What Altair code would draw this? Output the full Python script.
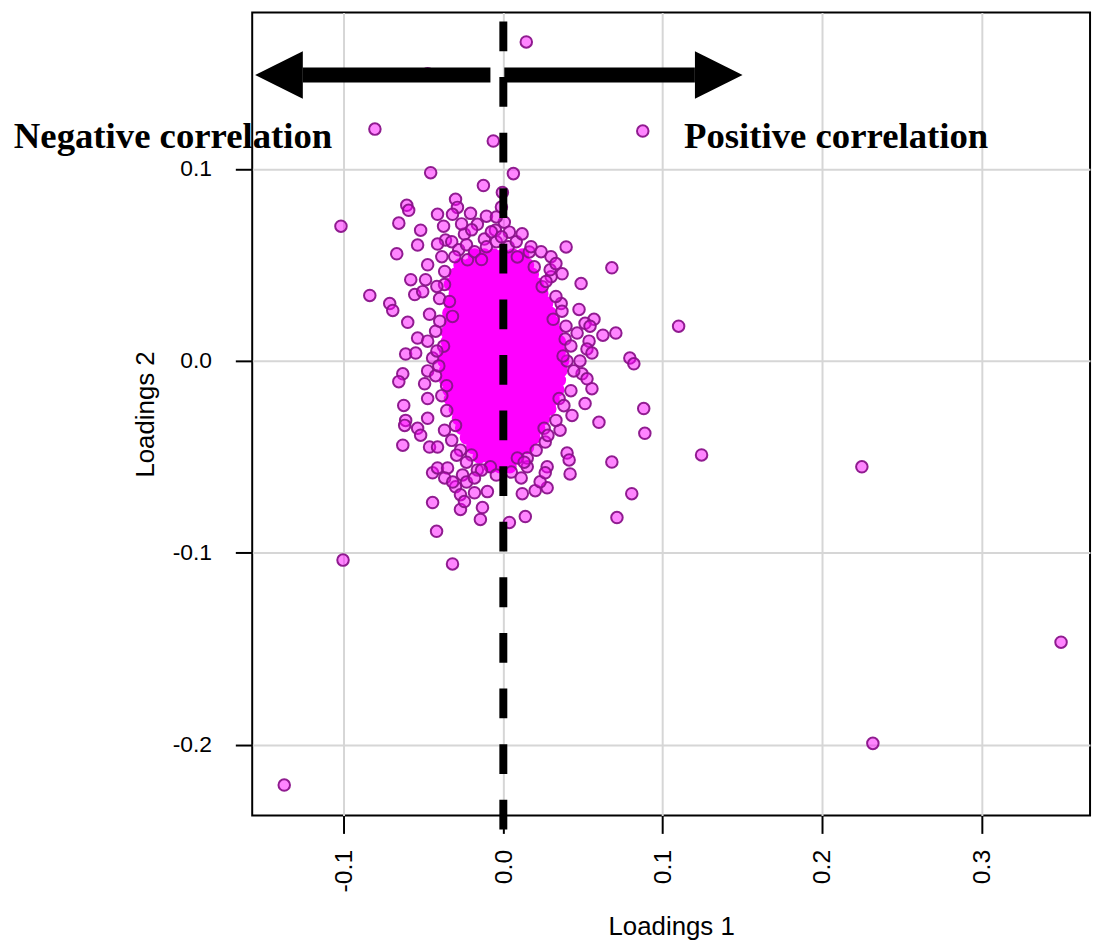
import altair as alt
import pandas as pd

# ---------------- data ----------------
X_DOMAIN = [-0.1576, 0.3682]
Y_DOMAIN = [-0.2369, 0.1816]
X_TICKS = [-0.1, 0.0, 0.1, 0.2, 0.3]
Y_TICKS = [-0.2, -0.1, 0.0, 0.1]

# scattered loadings (x = Loadings 1, y = Loadings 2)
outer_points = [
    (0.0144, 0.1662), (-0.0475, 0.1497), (-0.0806, 0.1208), (0.0875, 0.1198),
    (-0.0063, 0.1146), (-0.0456, 0.0981), (0.0063, 0.0976), (-0.0125, 0.0914),
    (-0.0006, 0.0878), (-0.1019, 0.0702), (0.1100, 0.0181), (-0.1006, -0.1038),
    (-0.0319, -0.1058), (-0.1375, -0.2210), (0.1244, -0.0490), (0.2250, -0.0552),
    (0.3500, -0.1466), (0.2319, -0.1993), (0.0806, -0.0692), (0.0713, -0.0816),
    (0.0419, -0.0589), (0.0275, -0.0552), (0.0275, -0.0661), (0.0200, -0.0676),
    (0.0119, -0.0692), (0.0138, -0.0811), (0.0038, -0.0842), (0.0681, -0.0527),
    (0.0231, -0.0630), (0.0263, -0.0583), (0.0150, -0.0552), (0.0881, -0.0248),
    (0.0888, -0.0377), (0.0681, 0.0485), (0.0369, 0.0454), (0.0300, 0.0439),
    (0.0488, 0.0403), (0.0363, 0.0299), (0.0475, 0.0268), (0.0569, 0.0217),
    (0.0513, 0.0196), (0.0544, 0.0181), (0.0706, 0.0145), (0.0625, 0.0134),
    (0.0463, 0.0145), (0.0538, 0.0103), (0.0388, 0.0114), (0.0794, 0.0015),
    (0.0819, -0.0015), (0.0525, 0.0062), (0.0556, 0.0041), (0.0400, 0.0000),
    (0.0481, 0.0000), (0.0556, -0.0145), (0.0513, -0.0222), (0.0600, -0.0320),
    (0.0431, -0.0284), (0.0356, -0.0361), (0.0263, -0.0423), (0.0400, -0.0480),
    (0.0413, -0.0516), (0.0150, -0.0506), (0.0494, -0.0067), (0.0525, -0.0093),
    (-0.0606, 0.0811), (-0.0594, 0.0785), (-0.0300, 0.0842), (-0.0288, 0.0800),
    (-0.0656, 0.0718), (-0.0413, 0.0764), (-0.0319, 0.0764), (-0.0206, 0.0769),
    (-0.0106, 0.0754), (-0.0163, 0.0712), (-0.0519, 0.0681), (-0.0375, 0.0702),
    (-0.0538, 0.0604), (-0.0669, 0.0558), (-0.0475, 0.0501), (-0.0050, 0.0681),
    (-0.0363, 0.0630), (-0.0244, 0.0661), (-0.0119, 0.0635), (-0.0413, 0.0609),
    (0.0006, 0.0723), (0.0038, 0.0671), (0.0163, 0.0568), (0.0394, 0.0594),
    (0.0194, 0.0490), (0.0294, 0.0475), (-0.0581, 0.0423), (-0.0488, 0.0423),
    (-0.0556, 0.0346), (-0.0506, 0.0361), (-0.0713, 0.0299), (-0.0694, 0.0263),
    (-0.0463, 0.0243), (-0.0600, 0.0201), (-0.0425, 0.0155), (-0.0538, 0.0119),
    (-0.0475, 0.0103), (-0.0613, 0.0036), (-0.0550, 0.0041), (-0.0444, 0.0015),
    (-0.0319, 0.0232), (-0.0400, 0.0325), (-0.0369, 0.0398), (-0.0631, -0.0067),
    (-0.0656, -0.0108), (-0.0494, -0.0119), (-0.0475, -0.0052), (-0.0425, -0.0077),
    (-0.0625, -0.0232), (-0.0475, -0.0196), (-0.0475, -0.0299), (-0.0613, -0.0310),
    (-0.0619, -0.0336), (-0.0538, -0.0351), (-0.0519, -0.0387), (-0.0631, -0.0439),
    (-0.0463, -0.0449), (-0.0413, -0.0449), (-0.0269, -0.0465), (-0.0369, -0.0361),
    (-0.0444, -0.0583), (-0.0413, -0.0558), (-0.0350, -0.0558), (-0.0256, -0.0594),
    (-0.0300, -0.0656), (-0.0181, -0.0687), (-0.0100, -0.0681), (-0.0269, -0.0697),
    (-0.0269, -0.0774), (-0.0131, -0.0764), (-0.0144, -0.0826), (-0.0444, -0.0738),
    (-0.0419, -0.0888), (-0.0163, -0.0568), (-0.0081, -0.0552), (-0.0244, -0.0733),
    (-0.0838, 0.0341), (-0.0338, 0.0310), (-0.0375, 0.0077), (-0.0356, -0.0129),
    (-0.0300, -0.0336), (-0.0200, -0.0490), (0.0244, 0.0387), (0.0313, 0.0217),
    (0.0375, 0.0026), (0.0350, -0.0196), (0.0256, -0.0351), (0.0088, -0.0506),
    (-0.0225, 0.0527), (0.0088, 0.0542),
    # fringe around the dense core
    (-0.0324, 0.0621), (-0.0280, 0.0579), (-0.0231, 0.0605), (-0.0181, 0.0569),
    (-0.0106, 0.0595), (-0.0044, 0.0621), (-0.0305, 0.0543), (-0.0386, 0.0543),
    (-0.0137, 0.0528), (-0.0075, 0.0673), (-0.0199, 0.0683), (-0.0262, 0.0714),
    (-0.0012, 0.0802), (-0.0044, 0.0750), (-0.0012, 0.0647), (0.0031, 0.0595),
    (0.0081, 0.0621), (0.0118, 0.0662), (0.0174, 0.0595), (0.0237, 0.0569),
    (0.0299, 0.0543), (0.0330, 0.0507),
    (-0.0368, 0.0466), (-0.0417, 0.0388), (-0.0399, 0.0207), (-0.0417, 0.0052),
    (-0.0405, -0.0026), (-0.0386, -0.0181), (-0.0355, -0.0259), (-0.0324, -0.0414),
    (-0.0293, -0.0491), (-0.0231, -0.0528), (-0.0137, -0.0569), (-0.0044, -0.0595),
    (0.0050, -0.0579), (0.0112, -0.0610),
    (-0.0368, -0.0610), (-0.0318, -0.0631), (-0.0231, -0.0631), (-0.0181, -0.0610),
    (0.0268, 0.0414), (0.0330, 0.0336), (0.0368, 0.0259), (0.0393, 0.0181),
    (0.0424, 0.0078), (0.0442, -0.0052), (0.0424, -0.0155), (0.0380, -0.0233),
    (0.0330, -0.0310), (0.0280, -0.0388), (0.0206, -0.0466), (0.0131, -0.0528),
]

# dense core of overlapping points, row by row (Loadings 2 value, Loadings 1 values)
core_row_y = [0.055, 0.050, 0.045, 0.040, 0.035, 0.030, 0.025, 0.020, 0.015, 0.010,
              0.005, 0.000, -0.005, -0.010, -0.015, -0.020, -0.025, -0.030, -0.035,
              -0.040, -0.045, -0.050, -0.055]
core_row_x = [
    [-0.018, -0.012, -0.006, 0.000, 0.006, 0.012],
    [-0.027, -0.021, -0.015, -0.009, -0.003, 0.003, 0.009, 0.015],
    [-0.030, -0.024, -0.018, -0.012, -0.006, 0.000, 0.006, 0.012, 0.018],
    [-0.033, -0.027, -0.021, -0.015, -0.009, -0.003, 0.003, 0.009, 0.015, 0.021],
    [-0.030, -0.024, -0.018, -0.012, -0.006, 0.000, 0.006, 0.012, 0.018, 0.024],
    [-0.033, -0.027, -0.021, -0.015, -0.009, -0.003, 0.003, 0.009, 0.015, 0.021, 0.027],
    [-0.034, -0.030, -0.024, -0.018, -0.012, -0.006, 0.000, 0.006, 0.012, 0.018, 0.024, 0.029],
    [-0.033, -0.027, -0.021, -0.015, -0.009, -0.003, 0.003, 0.009, 0.015, 0.021, 0.027, 0.031],
    [-0.035, -0.030, -0.024, -0.018, -0.012, -0.006, 0.000, 0.006, 0.012, 0.018, 0.024, 0.030, 0.033],
    [-0.035, -0.029, -0.023, -0.017, -0.011, -0.005, 0.001, 0.007, 0.013, 0.019, 0.025, 0.031, 0.035],
    [-0.036, -0.031, -0.025, -0.019, -0.013, -0.007, -0.001, 0.005, 0.011, 0.017, 0.023, 0.029, 0.035],
    [-0.037, -0.032, -0.026, -0.020, -0.014, -0.008, -0.002, 0.004, 0.010, 0.016, 0.022, 0.028, 0.034, 0.037],
    [-0.036, -0.030, -0.024, -0.018, -0.012, -0.006, 0.000, 0.006, 0.012, 0.018, 0.024, 0.030, 0.036],
    [-0.036, -0.031, -0.025, -0.019, -0.013, -0.007, -0.001, 0.005, 0.011, 0.017, 0.023, 0.029, 0.035],
    [-0.034, -0.028, -0.022, -0.016, -0.010, -0.004, 0.002, 0.008, 0.014, 0.020, 0.026, 0.032, 0.034],
    [-0.033, -0.027, -0.021, -0.015, -0.009, -0.003, 0.003, 0.009, 0.015, 0.021, 0.027, 0.031],
    [-0.030, -0.024, -0.018, -0.012, -0.006, 0.000, 0.006, 0.012, 0.018, 0.024, 0.029],
    [-0.028, -0.023, -0.017, -0.011, -0.005, 0.001, 0.007, 0.013, 0.019, 0.025],
    [-0.026, -0.020, -0.014, -0.008, -0.002, 0.004, 0.010, 0.016, 0.022],
    [-0.023, -0.017, -0.011, -0.005, 0.001, 0.007, 0.013, 0.019],
    [-0.019, -0.013, -0.007, -0.001, 0.005, 0.011, 0.015],
    [-0.015, -0.009, -0.003, 0.003, 0.009],
    [-0.008, -0.002, 0.004],
]

# annotation: dashed zero line, arrows and labels
zero_line = {"x": 0.0, "y_top": 0.1769, "y_bottom": -0.2442}
arrow_shafts = {"x_start": [-0.0081, 0.0006], "x_end": [-0.1259, 0.1202], "y": [0.149, 0.149]}
arrow_heads = {"x": [-0.1408, 0.1352], "y": [0.149, 0.149], "dir": ["left", "right"]}
annot_text = ["Negative correlation", "Positive correlation"]
annot_x = [-0.3072, 0.1134]
annot_y = [0.1107, 0.1107]

# ---------------- tables ----------------
outer_df = pd.DataFrame(outer_points, columns=["x", "y"])
core_df = pd.DataFrame(
    [(xv, yv) for yv, row in zip(core_row_y, core_row_x) for xv in row], columns=["x", "y"]
)
zero_df = pd.DataFrame([zero_line])
shaft_df = pd.DataFrame(arrow_shafts)
head_df = pd.DataFrame(arrow_heads)
text_df = pd.DataFrame({"label": annot_text, "x": annot_x, "y": annot_y})

FONT = "Liberation Sans"
neg_label = "datum.value < 0 ? '-' + format(-datum.value, '.1f') : format(datum.value, '.1f')"

x_scale = alt.Scale(domain=X_DOMAIN, nice=False, zero=False)
y_scale = alt.Scale(domain=Y_DOMAIN, nice=False, zero=False)

x_axis = alt.Axis(
    values=X_TICKS, labelExpr=neg_label, labelAngle=270, labelFont=FONT, labelFontSize=25,
    labelColor="black", labelPadding=16, labelOverlap=False, labelFlush=False,
    tickSize=18, tickColor="black", tickWidth=2, domain=False,
    grid=True, gridColor="#d6d6d6", gridWidth=2,
    title="Loadings 1", titleFont=FONT, titleFontSize=26, titleFontWeight="normal",
    titleColor="black", titlePadding=22,
)
y_axis = alt.Axis(
    values=Y_TICKS, labelExpr=neg_label, labelFont=FONT, labelFontSize=23,
    labelColor="black", labelPadding=24, labelOverlap=False,
    tickSize=17, tickColor="black", tickWidth=2, domain=False,
    grid=True, gridColor="#d6d6d6", gridWidth=2,
    title="Loadings 2", titleFont=FONT, titleFontSize=26, titleFontWeight="normal",
    titleColor="black", titlePadding=14,
)

core = alt.Chart(core_df).mark_circle(size=200, color="#ff00ff", opacity=1).encode(
    x=alt.X("x:Q", scale=x_scale, axis=x_axis),
    y=alt.Y("y:Q", scale=y_scale, axis=y_axis),
)

outer = alt.Chart(outer_df).mark_point(
    shape="circle", size=135, filled=True, fill="#ff00ff", fillOpacity=0.48,
    stroke="#8a128a", strokeWidth=2, strokeOpacity=0.95,
).encode(
    x=alt.X("x:Q", scale=x_scale, axis=x_axis),
    y=alt.Y("y:Q", scale=y_scale, axis=y_axis),
)

zero = alt.Chart(zero_df).mark_rule(
    color="black", strokeWidth=8, strokeDash=[30, 26], strokeCap="butt"
).encode(
    x=alt.X("x:Q", scale=x_scale),
    y=alt.Y("y_top:Q", scale=y_scale),
    y2="y_bottom:Q",
)

shafts = alt.Chart(shaft_df).mark_rule(color="black", strokeWidth=15, strokeCap="butt").encode(
    x=alt.X("x_start:Q", scale=x_scale),
    x2="x_end:Q",
    y=alt.Y("y:Q", scale=y_scale),
)

left_head = alt.Chart(head_df).transform_filter("datum.dir == 'left'").mark_point(
    shape="M1,-1L-1,0L1,1Z", size=2304, filled=True, fill="black", opacity=1, strokeWidth=0
).encode(x=alt.X("x:Q", scale=x_scale), y=alt.Y("y:Q", scale=y_scale))

right_head = alt.Chart(head_df).transform_filter("datum.dir == 'right'").mark_point(
    shape="M-1,-1L1,0L-1,1Z", size=2304, filled=True, fill="black", opacity=1, strokeWidth=0
).encode(x=alt.X("x:Q", scale=x_scale), y=alt.Y("y:Q", scale=y_scale))

texts = alt.Chart(text_df).mark_text(
    font="Liberation Serif", fontWeight="bold", fontSize=37, align="left",
    baseline="alphabetic", color="black",
).encode(
    x=alt.X("x:Q", scale=x_scale),
    y=alt.Y("y:Q", scale=y_scale),
    text="label:N",
)

chart = (
    alt.layer(core, outer, zero, shafts, left_head, right_head, texts)
    .properties(
        width=844, height=809,
        padding={"left": 246, "top": 1, "right": 6, "bottom": 131},
        autosize=alt.AutoSizeParams(type="none"),
        background="white",
    )
    .configure_view(stroke="black", strokeWidth=2)
)

chart.save("out.html", embed_options={"renderer": "svg", "actions": False})
